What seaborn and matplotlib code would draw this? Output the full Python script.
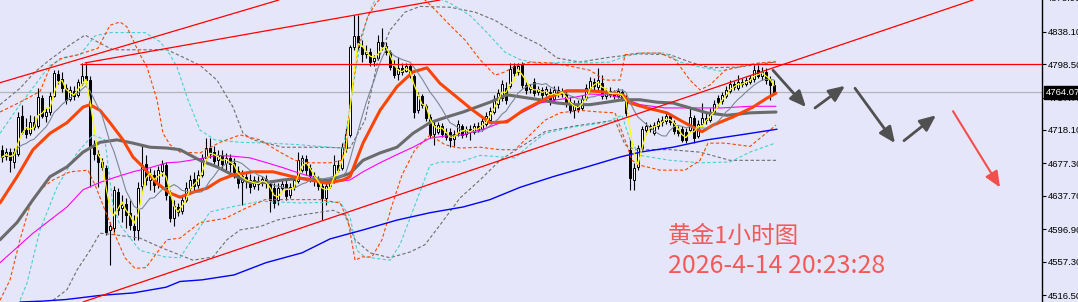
import matplotlib
matplotlib.use("Agg")
import matplotlib.pyplot as plt
import numpy as np
import pandas as pd
import seaborn as sns
from matplotlib.transforms import blended_transform_factory

# ---------------- data (XAUUSD, 1 hour bars) ----------------
opens = [4694,4686,4691,4679,4689,4735,4718,4714,4728,4723,
         4757,4735,4740,4760,4786,4780,4769,4756,4766,4761,
         4775,4784,4779,4697,4689,4679,4672,4596,4598,4642,
         4623,4628,4617,4601,4596,4650,4676,4657,4663,4652,
         4668,4675,4637,4611,4624,4619,4633,4647,4658,4651,
         4663,4684,4696,4691,4681,4686,4678,4684,4678,4668,
         4654,4661,4657,4650,4656,4654,4658,4652,4647,4633,
         4647,4652,4639,4648,4656,4669,4683,4672,4662,4657,
         4650,4635,4650,4656,4675,4672,4696,4712,4819,4833,
         4819,4811,4813,4802,4806,4825,4821,4813,4796,4786,
         4794,4790,4796,4784,4742,4760,4747,4734,4713,4716,
         4723,4714,4716,4707,4714,4723,4713,4719,4716,4723,
         4719,4725,4730,4740,4750,4757,4769,4772,4796,4789,
         4799,4773,4768,4777,4764,4767,4762,4764,4756,4767,
         4762,4762,4752,4742,4750,4745,4757,4769,4777,4771,
         4775,4760,4766,4762,4760,4764,4757,4694,4657,4673,
         4696,4718,4723,4714,4723,4728,4729,4735,4727,4718,
         4719,4716,4718,4733,4711,4725,4733,4730,4740,4757,
         4753,4760,4766,4774,4769,4777,4774,4777,4780,4791,
         4784,4789,4779,4773]
closes = [4685,4691,4681,4691,4734,4716,4713,4728,4722,4758,
          4735,4740,4760,4788,4779,4769,4755,4767,4760,4777,
          4784,4779,4697,4689,4679,4673,4593,4601,4645,4620,
          4626,4614,4602,4596,4647,4675,4657,4664,4651,4669,
          4676,4639,4611,4625,4618,4633,4647,4657,4650,4663,
          4684,4696,4689,4680,4687,4676,4684,4676,4667,4653,
          4662,4656,4648,4657,4652,4658,4653,4633,4629,4647,
          4652,4637,4648,4657,4681,4684,4669,4662,4656,4650,
          4635,4650,4656,4675,4669,4697,4713,4819,4833,4819,
          4811,4813,4801,4806,4825,4821,4813,4795,4785,4794,
          4789,4796,4785,4740,4760,4749,4733,4712,4724,4724,
          4713,4709,4706,4713,4725,4712,4719,4716,4723,4718,
          4729,4735,4741,4756,4763,4774,4755,4793,4788,4796,
          4773,4767,4771,4763,4768,4761,4768,4753,4767,4762,
          4764,4750,4742,4750,4744,4756,4769,4778,4772,4779,
          4760,4766,4762,4760,4766,4757,4739,4659,4672,4696,
          4719,4723,4719,4724,4729,4730,4735,4728,4717,4714,
          4706,4706,4734,4708,4725,4733,4730,4740,4750,4752,
          4761,4767,4774,4771,4777,4774,4779,4782,4791,4784,
          4789,4779,4773,4764]
highs = [4700,4696,4696,4696,4740,4749,4733,4736,4735,4769,
         4761,4745,4764,4791,4791,4789,4774,4772,4772,4780,
         4800,4800,4784,4706,4694,4684,4675,4606,4650,4647,
         4639,4635,4633,4614,4654,4700,4687,4672,4669,4674,
         4681,4679,4645,4633,4629,4637,4654,4663,4667,4669,
         4689,4708,4708,4698,4694,4694,4690,4689,4684,4674,
         4669,4667,4664,4662,4662,4662,4663,4657,4653,4653,
         4657,4657,4653,4662,4691,4687,4687,4676,4667,4662,
         4654,4654,4659,4687,4681,4702,4720,4822,4858,4858,
         4828,4822,4818,4810,4834,4843,4825,4816,4804,4807,
         4800,4800,4799,4786,4764,4762,4750,4738,4730,4728,
         4727,4720,4720,4718,4730,4725,4723,4724,4727,4728,
         4733,4740,4746,4761,4768,4779,4777,4800,4800,4800,
         4801,4777,4774,4782,4772,4771,4772,4769,4772,4772,
         4769,4767,4758,4755,4755,4761,4774,4783,4782,4794,
         4785,4769,4771,4767,4769,4768,4761,4706,4678,4700,
         4723,4728,4725,4728,4733,4735,4739,4739,4730,4723,
         4723,4720,4745,4736,4730,4751,4740,4745,4755,4761,
         4764,4772,4779,4778,4785,4782,4783,4785,4797,4797,
         4795,4794,4784,4779]
lows = [4679,4681,4667,4672,4686,4713,4708,4712,4718,4720,
        4733,4728,4736,4758,4774,4764,4750,4753,4755,4758,
        4773,4774,4648,4681,4648,4669,4590,4553,4593,4614,
        4606,4598,4596,4584,4584,4642,4651,4645,4642,4647,
        4662,4633,4606,4601,4613,4615,4630,4642,4643,4647,
        4661,4681,4684,4676,4674,4672,4669,4667,4659,4647,
        4626,4647,4641,4646,4645,4650,4647,4618,4623,4626,
        4645,4633,4635,4645,4653,4667,4663,4654,4650,4645,
        4608,4626,4647,4653,4667,4669,4691,4709,4816,4816,
        4801,4806,4796,4796,4804,4816,4810,4791,4782,4779,
        4785,4789,4782,4733,4739,4745,4729,4708,4700,4713,
        4709,4706,4697,4697,4711,4708,4709,4706,4713,4716,
        4717,4723,4727,4738,4745,4753,4750,4769,4784,4785,
        4769,4762,4763,4760,4761,4756,4760,4749,4752,4758,
        4758,4746,4739,4733,4740,4742,4755,4766,4767,4767,
        4756,4756,4758,4756,4757,4753,4735,4645,4645,4669,
        4694,4713,4716,4712,4719,4723,4725,4724,4713,4711,
        4703,4702,4716,4702,4708,4723,4725,4728,4738,4747,
        4750,4757,4763,4767,4767,4771,4772,4774,4777,4782,
        4779,4774,4755,4762]

# indicator lines: (bar, price)
ma_orange = [(-0.5,4629),(3.75,4661),(7.75,4694),(12,4714),(16.25,4727),(20.25,4746),(22,4749),
             (24.5,4742),(27,4727),(30.25,4706),(32.75,4685),(35.25,4673),(38.75,4653),(42,4641),
             (44.5,4636),(47.75,4642),(51.25,4647),(54.5,4657),(57.75,4663),(62.75,4667),(67.75,4667),
             (72.75,4661),(77,4657),(81.25,4653),(85.25,4657),(87,4661),(90.25,4702),(94.5,4742),
             (98.75,4771),(102.75,4789),(106.25,4794),(109.5,4775),(113.75,4758),(117.75,4742),
             (122,4727),(126.25,4728),(130.25,4742),(136.25,4757),(141.25,4766),(147,4766),
             (151.25,4764),(155.25,4761),(157,4751),(161.25,4745),(166.25,4739),(170.25,4728),
             (175,4716),(177.75,4724),(182.75,4734),(187.75,4746),(191.25,4757),(193.5,4763)]
ma_gray = [(-0.5,4584),(3.75,4605),(7.75,4633),(12,4661),(16.25,4673),(20.25,4691),(24.5,4703),
           (28.75,4706),(32.75,4702),(37,4697),(41.25,4696),(44.5,4694),(49.5,4681),(53.75,4673),
           (57.75,4663),(62,4654),(66.25,4654),(70.25,4657),(74.5,4659),(78.75,4657),(82,4657),
           (87,4665),(90.25,4681),(94.5,4690),(98.75,4697),(102.75,4714),(107,4727),(111.25,4734),
           (115.25,4740),(122,4752),(126.25,4761),(130.25,4758),(134.5,4755),(138.75,4751),
           (143.25,4749),(147,4749),(151.25,4752),(155.25,4755),(159.5,4755),(163.75,4752),
           (167.75,4751),(172,4745),(176.25,4739),(181.25,4736),(187,4739),(193.5,4740)]
ma_magenta = [(-0.5,4556),(7.75,4592),(16.25,4624),(20.25,4645),(24.5,4654),(28.75,4661),(32.75,4667),
              (37,4672),(41.25,4678),(44.5,4679),(49.5,4683),(53.75,4687),(57.75,4686),(62,4684),
              (66.25,4678),(70.25,4672),(74.5,4665),(78.75,4659),(82,4654),(87,4657),(90.25,4667),
              (94.5,4678),(98.75,4688),(102.75,4697),(107,4708),(111.25,4711),(115.25,4712),
              (121.5,4721),(126.25,4730),(130.25,4740),(134.5,4751),(138.75,4755),(143.25,4758),
              (147,4762),(151.25,4761),(155.25,4757),(159.5,4749),(165.75,4745),(172,4745),
              (180,4745),(187,4747),(193.5,4747)]
ma_blue = [(4.5,4508),(10,4509),(16,4511),(24.5,4516),(32.75,4519),(41,4526),(44.5,4533),(50,4535),
           (58,4541),(66,4556),(75,4568),(82,4585),(90.25,4596),(98.75,4608),(107,4617),(115.25,4624),
           (122,4633),(129.5,4648),(137.75,4661),(146.25,4673),(154.5,4685),(159.5,4691),
           (167.75,4697),(176.25,4706),(184.5,4712),(193.75,4719)]

band_orange_up = [(-0.5,4740),(4.5,4752),(9.5,4765),(12,4795),(14.5,4805),(19,4810),(24,4818),(27,4846),
                  (29.5,4850),(31.25,4844),(32.75,4828),(34.5,4810),(36.25,4795),(38.75,4755),
                  (40.25,4714),(42,4700),(44.5,4691),(49.5,4690),(54.5,4703),(59.5,4712),(64.5,4706),
                  (69.5,4691),(73.25,4681),(77,4678),(82,4678),(85,4681),(86,4706),(87.5,4765),
                  (89,4820),(91.5,4857),(93.5,4873),(96,4885),(104,4885),(108.25,4865),(112,4846),
                  (115.75,4828),(119.5,4804),(123.25,4785),(125.75,4789),(128.25,4796),(132,4801),
                  (137,4800),(142,4796),(147,4791),(150.75,4779),(154.5,4779),(155.75,4810),
                  (159.5,4812),(164.5,4812),(168.25,4804),(172,4779),(174.5,4767),(177,4773),
                  (180.75,4791),(185.75,4797),(189.5,4800),(193.5,4801)]
band_orange_dn = [(-0.5,4510),(2,4535),(4.5,4584),(7,4626),(9.5,4645),(12.75,4657),(17,4667),(21.5,4669),
                  (23.25,4651),(25.75,4620),(28.25,4590),(30.75,4562),(33.25,4549),(36,4550),
                  (38.25,4565),(41.25,4584),(44.5,4586),(49.5,4605),(55.75,4610),(60.75,4622),
                  (65.75,4633),(72,4633),(79.5,4633),(84.5,4629),(86.5,4608),(88.25,4559),(90,4563),
                  (92.5,4563),(95,4584),(97.5,4626),(100,4663),(103.25,4694),(107,4712),(110.75,4700),
                  (114.5,4696),(119.5,4697),(124.5,4694),(128.25,4694),(132,4712),(135.75,4730),
                  (139.5,4739),(144.5,4742),(149.5,4740),(153.25,4739),(155.75,4706),(157.5,4681),
                  (159.5,4675),(164.5,4669),(170.75,4669),(174.5,4681),(176.5,4702),(180.75,4702),
                  (187,4698),(191.5,4716),(193.5,4724)]
band_cyan_up = [(-0.5,4714),(4.5,4749),(8.25,4773),(12,4797),(15.75,4807),(19.5,4810),(23.25,4833),
                (27,4837),(35.75,4837),(39.5,4826),(42,4810),(43.75,4795),(46.5,4755),(49.5,4718),
                (53.25,4706),(59.5,4703),(67,4702),(74.5,4700),(82,4697),(85.25,4696),(86.5,4730),
                (88,4779),(89.5,4822),(91.5,4858),(93.25,4877),(95.75,4887),(107,4883),(112,4873),
                (117,4858),(121.25,4837),(125.75,4813),(129.5,4804),(134.5,4799),(140.75,4801),
                (147,4800),(152,4801),(155.75,4808),(159.5,4812),(165.75,4812),(169.5,4801),
                (174.5,4795),(179.5,4790),(184.5,4795),(189.5,4800),(193.5,4802)]
band_cyan_dn = [(4.5,4510),(6.25,4531),(9.5,4596),(13.75,4648),(18.75,4690),(22.75,4712),(25.75,4706),
                (27.75,4626),(29.5,4602),(34.5,4571),(40.75,4563),(44.5,4562),(48.25,4590),(52,4618),
                (58.25,4625),(64.5,4631),(74.5,4629),(84.5,4630),(87,4612),(88.75,4571),(90.75,4563),
                (97,4559),(99.5,4578),(103.75,4633),(107,4675),(109.5,4679),(114.5,4679),(119.5,4687),
                (128.25,4684),(132,4700),(135.75,4714),(143.25,4722),(150.75,4727),(155,4736),
                (157,4706),(159.5,4687),(167,4681),(174.5,4678),(182,4679),(187,4691),(193.25,4702)]
band_gray_up = [(-0.5,4749),(4.5,4769),(8.25,4789),(12,4804),(17,4822),(20.75,4834),(24.5,4824),
                (27.75,4816),(32.75,4816),(41.25,4816),(45.25,4807),(49.5,4797),(53.75,4779),
                (57.75,4746),(60.25,4714),(62.75,4706),(70.25,4697),(79.5,4697),(87,4696),
                (90.75,4730),(94,4804),(97,4840),(100.75,4862),(104.5,4869),(112,4868),(118.25,4862),
                (123.25,4852),(128.25,4837),(134.5,4822),(138.75,4806),(144.5,4801),(152,4807),
                (159.5,4811),(167,4810),(172,4801),(177,4794),(184.5,4795),(193.25,4801)]
band_gray_dn = [(12.75,4510),(16.25,4523),(18.75,4547),(22,4571),(24.5,4592),(28.25,4590),(34.5,4586),
                (39.5,4575),(47.75,4559),(52.75,4563),(56.25,4584),(59.5,4596),(64.5,4600),
                (68.75,4608),(74.5,4614),(82.75,4620),(85.75,4614),(88.25,4584),(92,4568),(97,4562),
                (102,4569),(105.75,4578),(109.5,4602),(114.5,4635),(119.5,4657),(124.5,4681),
                (129.5,4697),(135.75,4716),(143.25,4723),(153.25,4730),(155.75,4700),(158.25,4694),
                (167,4694),(174.5,4691),(182,4681),(193.5,4681)]

# trend lines drawn by the analyst: (bar, price) pairs
trend_lines = [((-0.5,4775.8),(69.2,4876.8)),
               ((20.75,4800.0),(109.5,4876.8)),
               ((20.25,4508.0),(242.75,4876.8))]
resistance_level = 4799.0
resistance_start = 19.5
last_price = 4764.07

# projected path arrows: (start bar, start price), (end bar, end price)
gray_arrows = [((192.75,4791),(201,4746)), ((203.25,4745),(210.75,4772)),
               ((213.25,4769),(223.25,4702)), ((225.5,4705),(233.5,4736))]
red_arrow = ((237.75,4741),(249.5,4648))

tick_values = [4516.5, 4557.3, 4596.9, 4637.7, 4677.3, 4718.1, 4757.7, 4798.5, 4838.1]
top_tick = 4878.9
title_text = "黄金1小时图"
time_text = "2026-4-14 20:23:28"

# ---------------- drawing ----------------
sns.set_theme(style="white")
plt.rcParams['font.family'] = ['Noto Sans CJK SC', 'DejaVu Sans']

BG = "#E6E6FA"
W, H = 1078, 302
fig = plt.figure(figsize=(W / 100, H / 100), dpi=100, facecolor=BG)
ax = fig.add_axes([0, 0, 1042 / W, 1])
ax.set_facecolor(BG)

o = np.array(opens, float); c = np.array(closes, float)
hi = np.maximum(np.array(highs, float), np.maximum(o, c))
lo = np.minimum(np.array(lows, float), np.minimum(o, c))
bars = np.arange(len(c))

up = c >= o
bottom = np.minimum(o, c)
height = np.maximum(np.abs(c - o), 0.8)
ax.vlines(bars, lo, hi, color="black", linewidth=0.8, zorder=2)
ax.bar(bars, height, bottom=bottom, width=0.62,
       color=np.where(up, "white", "black"), edgecolor="black", linewidth=0.7, zorder=2.1)


def draw(points, color, lw, dashed=False, z=3):
    df = pd.DataFrame(points, columns=["bar", "price"])
    kw = dict(linestyle=(0, (3, 2))) if dashed else {}
    sns.lineplot(data=df, x="bar", y="price", ax=ax, color=color, linewidth=lw,
                 estimator=None, sort=False, zorder=z, **kw)


# bands (dashed)
for pts in (band_gray_up, band_gray_dn):
    draw(pts, "#6e6e6e", 0.8, dashed=True)
for pts in (band_cyan_up, band_cyan_dn):
    draw(pts, "#48D1CC", 0.8, dashed=True)
for pts in (band_orange_up, band_orange_dn):
    draw(pts, "#FF4500", 0.8, dashed=True)

# moving averages
close_s = pd.Series(c)
fast = pd.DataFrame({"bar": bars, "price": close_s.rolling(3, min_periods=1).mean()})
mid = pd.DataFrame({"bar": bars, "price": close_s.rolling(10, min_periods=1).mean()})
draw(ma_blue, "#0000FF", 1.0, z=3.2)
draw(ma_magenta, "#FF00FF", 0.8, z=3.2)
draw(ma_gray, "#6b6b6b", 2.2, z=3.3)
draw(ma_orange, "#FF4500", 2.2, z=3.4)
sns.lineplot(data=mid, x="bar", y="price", ax=ax, color="#7b8894", linewidth=0.8,
             estimator=None, zorder=3.5)
sns.lineplot(data=fast, x="bar", y="price", ax=ax, color="#FFFF00", linewidth=0.9,
             estimator=None, zorder=3.6)

# current price line
ax.axhline(last_price, color="#b4b4b4", linewidth=0.9, zorder=1.5)

# trend lines / levels
for (x0, y0), (x1, y1) in trend_lines:
    ax.plot([x0, x1], [y0, y1], color="#FF0000", linewidth=0.9, zorder=4)
ax.hlines(resistance_level, resistance_start, 261, color="#FF0000", linewidth=0.9, zorder=4)

# arrows
for start, end in gray_arrows:
    ax.annotate("", xy=end, xytext=start,
                arrowprops=dict(arrowstyle="-|>,head_length=0.8,head_width=0.35",
                                color="#505050", lw=2.0, shrinkA=0, shrinkB=0), zorder=5)
ax.annotate("", xy=red_arrow[1], xytext=red_arrow[0],
            arrowprops=dict(arrowstyle="-|>,head_length=0.8,head_width=0.35",
                            color="#F24E4E", lw=1.5, shrinkA=0, shrinkB=0), zorder=5)

# axes
ax.set_xlim(-0.5, 260.0)
ax.set_ylim(4507.96, 4876.82)
ax.set_xlabel(""); ax.set_ylabel("")
ax.set_xticks([])
ax.yaxis.tick_right()
ax.set_yticks(tick_values)
ax.set_yticklabels([f"{v:.2f}" for v in tick_values], family="Liberation Sans", fontsize=6.8)
ax.tick_params(axis="y", direction="out", length=3, width=0.8, color="black",
               labelcolor="black", pad=1, right=True, left=False)
for s in ("left", "top", "bottom"):
    ax.spines[s].set_visible(False)
ax.spines["right"].set_color("black")
ax.spines["right"].set_linewidth(1.0)

trans = blended_transform_factory(ax.transAxes, ax.transData)
ax.text(1.0 + 4 / 1042, last_price, f"{last_price:.2f}", transform=trans, ha="left", va="center",
        color="white", fontsize=6.8, family="Liberation Sans",
        bbox=dict(boxstyle="square,pad=0.2", fc="black", ec="black"), clip_on=False, zorder=6)
ax.text(1.0 + 5 / 1042, top_tick, f"{top_tick:.2f}", transform=trans, ha="left", va="center",
        color="black", fontsize=6.8, family="Liberation Sans", clip_on=False)

# caption
fig.text(668 / W, (H - 243) / H, title_text, color="#F25A5A", fontsize=17,
         ha="left", va="baseline", family=["Noto Sans CJK SC", "DejaVu Sans"])
fig.text(668 / W, (H - 273) / H, time_text, color="#F25A5A", fontsize=18,
         ha="left", va="baseline", family=["Noto Sans CJK SC", "DejaVu Sans"])

fig.savefig("out.png", dpi=100, facecolor=BG)
